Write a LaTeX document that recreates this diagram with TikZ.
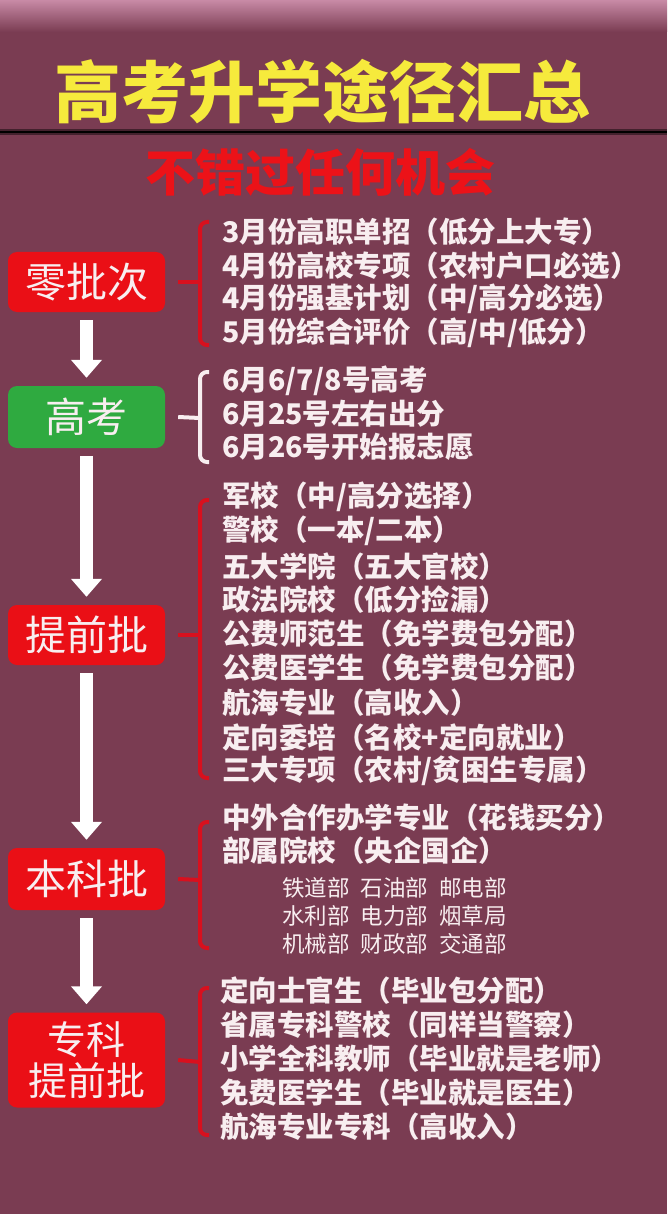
\documentclass[tikz,border=0pt]{standalone}
\usepackage{fontspec}
\setmainfont{Noto Sans CJK SC}
\usetikzlibrary{arrows.meta}
\definecolor{bg}{HTML}{7A3C52}
\definecolor{pinktop}{HTML}{C88AA6}
\definecolor{titleyellow}{HTML}{F6EA3C}
\definecolor{subred}{HTML}{EC1218}
\definecolor{boxred}{HTML}{EA0F16}
\definecolor{boxgreen}{HTML}{2FAA40}
\definecolor{bracered}{HTML}{D8101E}
\definecolor{txt}{HTML}{F8EEF0}
\begin{document}
\begin{tikzpicture}[x=1pt,y=-1pt,
  every node/.style={inner sep=0pt},
  item/.style={anchor=west, text=txt, font=\bfseries\fontsize{28.5}{28.5}\selectfont},
  subitem/.style={anchor=west, text=txt, font=\fontsize{22.5}{22.5}\selectfont},
  stage/.style={fill=boxred, rounded corners=9pt, minimum width=157pt, minimum height=60pt, text=txt, font=\fontsize{41}{46}\selectfont, align=center},
  flow/.style={draw=white, line width=13pt, -{Triangle[width=30pt,length=18pt]}, shorten <=8pt, shorten >=8pt},
  brace/.style={draw=bracered, line width=4pt, rounded corners=7pt},
  tick/.style={draw=bracered, line width=4pt}
]
\useasboundingbox (0,0) rectangle (667,1214);
\fill[bg] (0,0) rectangle (667,1214);
\shade[top color=pinktop, bottom color=bg] (0,0) rectangle (667,32);
\fill[black!45!bg] (0,129) rectangle (667,135);
\draw[black, line width=2.5pt] (0,132) -- (667,132);

% title
\node[text=titleyellow, font=\bfseries\fontsize{67}{67}\selectfont] (title) at (322,92) {高考升学途径汇总};
\node[text=subred, font=\bfseries\fontsize{50}{50}\selectfont] (sub) at (320,172) {不错过任何机会};

% stages
\node[stage, minimum height=60pt] (z) at (86.5,282) {零批次};
\node[stage, fill=boxgreen, minimum height=62pt] (g) at (86.5,417) {高考};
\node[stage] (t) at (86.5,635) {提前批};
\node[stage, minimum height=62pt] (b) at (86.5,879) {本科批};
\node[stage, minimum height=95pt, font=\fontsize{39}{41}\selectfont] (k) at (86.5,1060) {专科\\提前批};

\draw[flow] (z) -- (g);
\draw[flow] (g) -- (t);
\draw[flow] (t) -- (b);
\draw[flow] (b) -- (k);

% braces
\coordinate (zm) at (200,282);
\draw[brace] (209,222) -- (200,222) -- (200,345) -- (209,345);
\draw[tick] (z.east) ++(13,0) -- (zm);

\coordinate (gm) at (200,418);
\draw[brace, draw=txt] (209,372) -- (200,372) -- (200,462) -- (209,462);
\draw[tick, draw=txt] (g.east) ++(13,0) -- (gm);

\coordinate (tm) at (200,635);
\draw[brace] (209,500) -- (200,500) -- (200,778) -- (209,778);
\draw[tick] (t.east) ++(13,0) -- (tm);

\coordinate (bm) at (200,880);
\draw[brace] (209,822) -- (200,822) -- (200,948) -- (209,948);
\draw[tick] (b.east) ++(13,0) -- (bm);

\coordinate (km) at (200,1062);
\draw[brace] (209,988) -- (200,988) -- (200,1135) -- (209,1135);
\draw[tick] (k.east) ++(13,0) -- (km);

% items
\node[item] (z1) at (222,232) {3月份高职单招（低分上大专）};
\node[item] (z2) at (222,266) {4月份高校专项（农村户口必选）};
\node[item] (z3) at (222,299) {4月份强基计划（中/高分必选）};
\node[item] (z4) at (222,333) {5月份综合评价（高/中/低分）};

\node[item] (g1) at (222,381) {6月6/7/8号高考};
\node[item] (g2) at (222,414) {6月25号左右出分};
\node[item] (g3) at (222,447) {6月26号开始报志愿};

\node[item] (t1) at (222,497) {军校（中/高分选择）};
\node[item] (t2) at (222,531) {警校（一本/二本）};
\node[item] (t3) at (222,567) {五大学院（五大官校）};
\node[item] (t4) at (222,600) {政法院校（低分捡漏）};
\node[item] (t5) at (222,634) {公费师范生（免学费包分配）};
\node[item] (t6) at (222,668) {公费医学生（免学费包分配）};
\node[item] (t7) at (222,703) {航海专业（高收入）};
\node[item] (t8) at (222,738) {定向委培（名校+定向就业）};
\node[item] (t9) at (222,771) {三大专项（农村/贫困生专属）};

\node[item] (b1) at (222,818) {中外合作办学专业（花钱买分）};
\node[item] (b2) at (222,851) {部属院校（央企国企）};
\node[subitem] (b3) at (282,888) {铁道部\hspace{11pt}石油部\hspace{11pt}邮电部};
\node[subitem] (b4) at (282,916) {水利部\hspace{11pt}电力部\hspace{11pt}烟草局};
\node[subitem] (b5) at (282,944) {机械部\hspace{11pt}财政部\hspace{11pt}交通部};

\node[item] (k1) at (220,991) {定向士官生（毕业包分配）};
\node[item] (k2) at (220,1025) {省属专科警校（同样当警察）};
\node[item] (k3) at (220,1059) {小学全科教师（毕业就是老师）};
\node[item] (k4) at (220,1093) {免费医学生（毕业就是医生）};
\node[item] (k5) at (220,1127) {航海专业专科（高收入）};
\end{tikzpicture}
\end{document}
